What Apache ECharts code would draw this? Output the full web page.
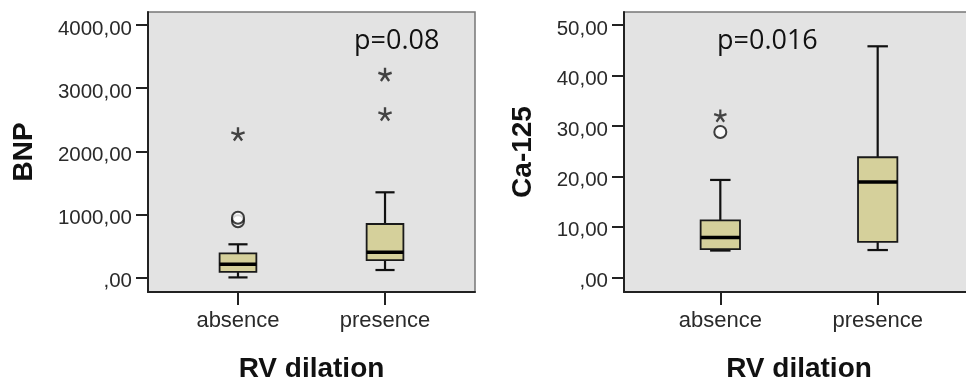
<!DOCTYPE html>
<html>
<head>
<meta charset="utf-8">
<script src="https://cdn.jsdelivr.net/npm/echarts@6/dist/echarts.min.js"></script>
<style>
html,body{margin:0;padding:0;background:#fff;}
#chart{width:966px;height:383px;}
</style>
</head>
<body>
<div id="chart"></div>
<script>
// ---- data ----
const categories = ['absence', 'presence'];
// [min, Q1, median, Q3, max]
const bnpBoxes = [
  [5, 93, 212, 386, 529],
  [122, 280, 405, 850, 1352]
];
const bnpCircleOutliers = [['absence', 895], ['absence', 950]];
const bnpStarOutliers = [['absence', 2270], ['presence', 3214], ['presence', 2587]];
const ca125Boxes = [
  [5.3, 5.6, 7.9, 11.3, 19.3],
  [5.4, 7.0, 18.9, 23.8, 45.8]
];
const ca125CircleOutliers = [['absence', 28.8]];
const ca125StarOutliers = [['absence', 32.0]];
const bnpTicks = [0, 1000, 2000, 3000, 4000];
const ca125Ticks = [0, 10, 20, 30, 40, 50];
const pBNP = 'p=0.08';
const pCA = 'p=0.016';
const xTitle = 'RV dilation';
const yTitles = ['BNP', 'Ca-125'];

// ---- helpers ----
const catPos = name => categories.indexOf(name) + 1;
const boxData = boxes => boxes.map((b, i) => [i + 1].concat(b));
const ptData = pts => pts.map(p => [catPos(p[0]), p[1]]);
const fmtY = v => (v === 0 ? ',00' : v + ',00');

function starPath() {
  const arms = 5, L = 10, w = 1.7;
  let d = '';
  for (let k = 0; k < arms; k++) {
    const a = -Math.PI / 2 + k * 2 * Math.PI / arms;
    const dx = Math.cos(a), dy = Math.sin(a);
    const px = -dy * w, py = dx * w;
    const pts = [[px, py], [dx * L + px, dy * L + py], [dx * L - px, dy * L - py], [-px, -py]];
    d += 'M' + pts.map(p => (p[0] + 10).toFixed(2) + ',' + (p[1] + 10).toFixed(2)).join('L') + 'Z';
  }
  return 'path://' + d;
}
const STAR = starPath();

function renderBox(params, api) {
  const x = api.value(0);
  const lo = api.coord([x, api.value(1)]);
  const q1 = api.coord([x, api.value(2)]);
  const md = api.coord([x, api.value(3)]);
  const q3 = api.coord([x, api.value(4)]);
  const hi = api.coord([x, api.value(5)]);
  const unit = api.size([1, 0])[0];
  const bw = unit * 0.25, cw = unit * 0.13;
  const cx = lo[0];
  const ls = { stroke: '#111', lineWidth: 2.2 };
  return {
    type: 'group',
    children: [
      { type: 'line', shape: { x1: cx, y1: hi[1], x2: cx, y2: q3[1] }, style: ls },
      { type: 'line', shape: { x1: cx, y1: q1[1], x2: cx, y2: lo[1] }, style: ls },
      { type: 'line', shape: { x1: cx - cw / 2, y1: hi[1], x2: cx + cw / 2, y2: hi[1] }, style: ls },
      { type: 'line', shape: { x1: cx - cw / 2, y1: lo[1], x2: cx + cw / 2, y2: lo[1] }, style: ls },
      { type: 'rect', shape: { x: cx - bw / 2, y: q3[1], width: bw, height: q1[1] - q3[1] },
        style: { fill: '#d5d09b', stroke: '#1a1a1a', lineWidth: 1.8 } },
      { type: 'line', shape: { x1: cx - bw / 2, y1: md[1], x2: cx + bw / 2, y2: md[1] },
        style: { stroke: '#000', lineWidth: 3.5 } }
    ]
  };
}

function xAxisCfg(gi) {
  return {
    type: 'value', gridIndex: gi, min: 0.388, max: 2.612,
    name: xTitle, nameLocation: 'middle', nameGap: 63,
    nameTextStyle: { fontFamily: 'Liberation Sans', fontWeight: 'bold', fontSize: 28, color: '#111' },
    splitLine: { show: false },
    axisLine: { show: true, onZero: false, lineStyle: { color: '#222', width: 2 } },
    axisTick: { show: true, customValues: [1, 2], length: 13, lineStyle: { color: '#222', width: 2 } },
    axisLabel: { customValues: [1, 2], margin: 18, formatter: v => categories[Math.round(v) - 1],
      fontFamily: 'Liberation Sans', fontSize: 22, color: '#2a2a2a' }
  };
}
function yAxisCfg(gi, min, max, ticks, name, gap) {
  return {
    type: 'value', gridIndex: gi, min: min, max: max,
    name: name, nameLocation: 'middle', nameGap: gap, nameRotate: 90,
    nameTextStyle: { fontFamily: 'Liberation Sans', fontWeight: 'bold', fontSize: 28, color: '#111' },
    splitLine: { show: false },
    axisLine: { show: true, onZero: false, lineStyle: { color: '#222', width: 2 } },
    axisTick: { show: true, customValues: ticks, length: 12, lineStyle: { color: '#222', width: 2 } },
    axisLabel: { customValues: ticks, margin: 16, formatter: fmtY,
      fontFamily: 'Liberation Sans', fontSize: 20.5, color: '#2a2a2a',
      verticalAlign: 'top', lineHeight: 8 }
  };
}

const chart = echarts.init(document.getElementById('chart'), null, { renderer: 'canvas' });
chart.setOption({
  backgroundColor: '#fff',
  animation: false,
  grid: [
    { left: 148, top: 12, width: 327, height: 280, outerBoundsMode: 'none', containLabel: false,
      show: true, backgroundColor: '#e3e3e3', borderColor: '#777', borderWidth: 1.5 },
    { left: 624, top: 12, width: 350, height: 280, outerBoundsMode: 'none', containLabel: false,
      show: true, backgroundColor: '#e3e3e3', borderColor: '#777', borderWidth: 1.5 }
  ],
  xAxis: [xAxisCfg(0), xAxisCfg(1)],
  yAxis: [
    yAxisCfg(0, -226, 4206, bnpTicks, yTitles[0], 110),
    yAxisCfg(1, -2.92, 52.6, ca125Ticks, yTitles[1], 87)
  ],
  graphic: [
    { type: 'text', left: 354, top: 28, style: { text: pBNP, font: '27px "Open Sans"', fill: '#111' } },
    { type: 'text', left: 717, top: 28, style: { text: pCA, font: '27px "Open Sans"', fill: '#111' } }
  ],
  series: [
    { type: 'custom', xAxisIndex: 0, yAxisIndex: 0, renderItem: renderBox, data: boxData(bnpBoxes), encode: { x: 0, y: [1, 2, 3, 4, 5] } },
    { type: 'scatter', xAxisIndex: 0, yAxisIndex: 0, data: ptData(bnpCircleOutliers), symbol: 'emptyCircle', symbolSize: 12,
      itemStyle: { color: '#111', borderColor: '#111', borderWidth: 2.6 } },
    { type: 'scatter', xAxisIndex: 0, yAxisIndex: 0, data: ptData(bnpStarOutliers), symbol: STAR, symbolSize: 14,
      itemStyle: { color: '#1a1a1a' } },
    { type: 'custom', xAxisIndex: 1, yAxisIndex: 1, renderItem: renderBox, data: boxData(ca125Boxes), encode: { x: 0, y: [1, 2, 3, 4, 5] } },
    { type: 'scatter', xAxisIndex: 1, yAxisIndex: 1, data: ptData(ca125CircleOutliers), symbol: 'emptyCircle', symbolSize: 12,
      itemStyle: { color: '#111', borderColor: '#111', borderWidth: 2.2 } },
    { type: 'scatter', xAxisIndex: 1, yAxisIndex: 1, data: ptData(ca125StarOutliers), symbol: STAR, symbolSize: 13,
      itemStyle: { color: '#1a1a1a' } }
  ]
});
</script>
</body>
</html>
